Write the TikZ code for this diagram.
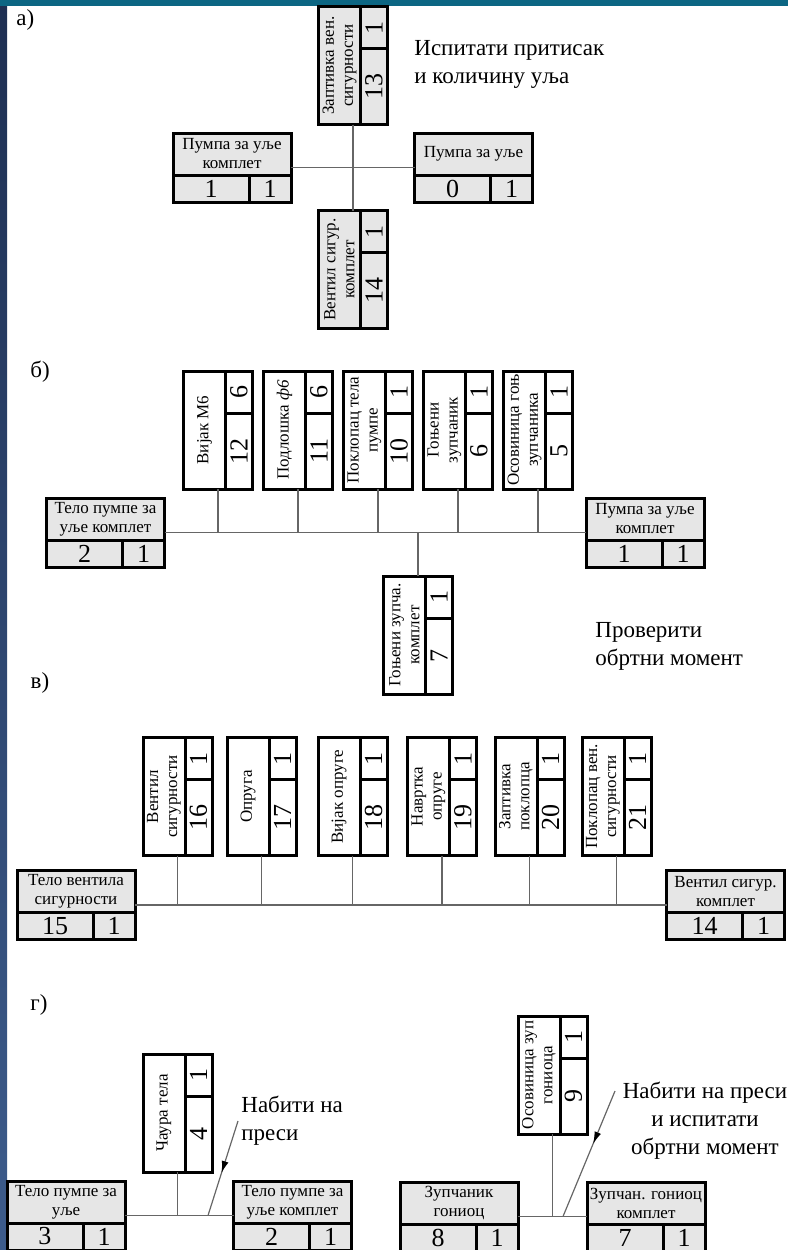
\documentclass[tikz,border=0pt]{standalone}
\usepackage{fontspec}
\setmainfont{Liberation Serif}
\usepackage{tikz}
\usetikzlibrary{arrows.meta, decorations.markings}
\definecolor{partGray}{HTML}{E6E6E6}
\definecolor{linkGray}{HTML}{666666}
\definecolor{barTeal}{HTML}{0C6683}
\definecolor{stripNavy}{HTML}{1E2F52}
\definecolor{stripBlue}{HTML}{3D5C8C}

% horizontal part box: name, centre, label, item no., quantity, fill
\newcommand{\partH}[6]{%
  \node[hpart, fill=#6] (#1) at (#2) {};
  \draw[rule] ([yshift=13.5pt]#1.south west) -- ([yshift=13.5pt]#1.south east);
  \draw[rule] ([xshift=-21pt]#1.south east) -- ([xshift=-21pt,yshift=13.5pt]#1.south east);
  \node[lbl] (#1-lbl) at ([yshift=-10.5pt]#1.north) {#3};
  \node[num] (#1-id) at ([xshift=19pt,yshift=6.75pt]#1.south west) {#4};
  \node[num] (#1-qty) at ([xshift=-10.5pt,yshift=6.75pt]#1.south east) {#5};
}
% vertical part box (same box turned upright)
\newcommand{\partV}[6]{%
  \node[vpart, fill=#6] (#1) at (#2) {};
  \draw[rule] ([xshift=-13.5pt]#1.north east) -- ([xshift=-13.5pt]#1.south east);
  \draw[rule] ([xshift=-13.5pt,yshift=-21pt]#1.north east) -- ([yshift=-21pt]#1.north east);
  \node[lbl, rotate=90] (#1-lbl) at ([xshift=10.5pt]#1.west) {#3};
  \node[num, rotate=90] (#1-id) at ([xshift=-6.75pt,yshift=19pt]#1.south east) {#4};
  \node[num, rotate=90] (#1-qty) at ([xshift=-6.75pt,yshift=-10.5pt]#1.north east) {#5};
}

\begin{document}
\begin{tikzpicture}[x=0.5pt, y=-0.5pt,
    hpart/.style={draw, line width=1.5pt, minimum width=59pt, minimum height=34.5pt,
      inner sep=0pt, outer sep=0pt},
    vpart/.style={draw, line width=1.5pt, minimum width=34.5pt, minimum height=59pt,
      inner sep=0pt, outer sep=0pt},
    rule/.style={line width=1.5pt},
    lbl/.style={font=\fontsize{8.5}{9.5}\selectfont, align=center, inner sep=0pt},
    num/.style={font=\fontsize{13}{13}\selectfont, inner sep=0pt},
    note/.style={font=\fontsize{11.5}{14}\selectfont, align=left, inner sep=0pt},
    link/.style={linkGray, line width=0.6pt},
    press/.style={linkGray, line width=0.6pt, postaction={decorate},
      decoration={markings, mark=at position #1 with {\arrow[black]{Latex[length=6pt,width=3.5pt]}}}}]
  \useasboundingbox (0,0) rectangle (788,1250);
  % --- slide frame ---
  \shade[top color=stripNavy, bottom color=stripBlue] (0,0) rectangle (7,1250);
  \fill[barTeal] (0,0) rectangle (788,6);

  % --- a) ---
  \node[note, anchor=west] (secA) at (16,20) {а)};
  \partV{p13}{353,65.5}{Заптивка вен.\\сигурности}{13}{1}{partGray}
  \partH{p1a}{232,167.5}{Пумпа за уље\\комплет}{1}{1}{partGray}
  \partH{p0}{473.5,167.5}{Пумпа за уље}{0}{1}{partGray}
  \partV{p14a}{353,269.5}{Вентил сигур.\\комплет}{14}{1}{partGray}
  \draw[link] (p1a.east) -- (p0.west);
  \draw[link] (p13.south) -- (p14a.north);
  \node[note, anchor=west] (testA) at (414,64) {Испитати притисак\\и количину уља};

  % --- б) ---
  \node[note] (secB) at (40,372) {б)};
  \partV{p12}{218,430}{Вијак М6}{12}{6}{white}
  \partV{p11}{298,430}{Подлошка \textit{ф6}}{11}{6}{white}
  \partV{p10}{378,430}{Поклопац тела\\пумпе}{10}{1}{white}
  \partV{p6}{458,430}{Гоњени\\зупчаник}{6}{1}{white}
  \partV{p5}{538,430}{Осовиница гоњ\\зупчаника}{5}{1}{white}
  \partH{p2b}{105.5,532.5}{Тело пумпе за\\уље комплет}{2}{1}{partGray}
  \partH{p1b}{645,532.5}{Пумпа за уље\\комплет}{1}{1}{partGray}
  \partV{p7b}{418,635}{Гоњени зупча.\\комплет}{7}{1}{white}
  \draw[link] (p2b.east) -- (p1b.west);
  \foreach \p in {p12,p11,p10,p6,p5} \draw[link] (\p.south) -- (\p.south |- p2b.east);
  \draw[link] (p7b.north) -- (p7b.north |- p2b.east);
  \node[note, anchor=west] (testB) at (595,646) {Проверити\\обртни момент};

  % --- в) ---
  \node[note] (secC) at (40,683) {в)};
  \partV{p16}{177.5,796.5}{Вентил\\сигурности}{16}{1}{white}
  \partV{p17}{261.5,796.5}{Опруга}{17}{1}{white}
  \partV{p18}{352.5,796.5}{Вијак опруге}{18}{1}{white}
  \partV{p19}{442,796.5}{Навртка\\опруге}{19}{1}{white}
  \partV{p20}{529.5,796.5}{Заптивка\\поклопца}{20}{1}{white}
  \partV{p21}{616.5,796.5}{Поклопац вен.\\сигурности}{21}{1}{white}
  \partH{p15}{76,905}{Тело вентила\\сигурности}{15}{1}{partGray}
  \partH{p14c}{725.5,905}{Вентил сигур.\\комплет}{14}{1}{partGray}
  \draw[link] (p15.east) -- (p14c.west);
  \foreach \p in {p16,p17,p18,p19,p20,p21} \draw[link] (\p.south) -- (\p.south |- p15.east);

  % --- г) ---
  \node[note] (secD) at (39,1005) {г)};
  \partV{p4}{177.5,1113}{Чаура тела}{4}{1}{white}
  \partH{p3}{66,1215.5}{Тело пумпе за\\уље}{3}{1}{partGray}
  \partH{p2d}{292.5,1215.5}{Тело пумпе за\\уље комплет}{2}{1}{partGray}
  \draw[link] (p3.east) -- (p2d.west);
  \draw[link] (p4.south) -- (p4.south |- p3.east);
  \coordinate (pressA0) at (238,1121);
  \coordinate (pressA1) at (208,1215.5);
  \draw[press=0.55] (pressA0) -- (pressA1);
  \node[note, anchor=west] (pressA) at (241,1121) {Набити на\\преси};

  \partV{p9}{552.5,1075}{Осовиница зуп\\гониоца}{9}{1}{white}
  \partH{p8}{459,1216.5}{Зупчаник\\гониоц}{8}{1}{partGray}
  \partH{p7d}{646,1216.5}{Зупчан. гониоц\\комплет}{7}{1}{partGray}
  \draw[link] (p8.east) -- (p7d.west);
  \draw[link] (p9.south) -- (p9.south |- p8.east);
  \coordinate (pressB0) at (615,1091);
  \coordinate (pressB1) at (563,1216.5);
  \draw[press=0.42] (pressB0) -- (pressB1);
  \node[note, align=center] (pressB) at (705,1121) {Набити на преси\\и испитати\\обртни момент};
\end{tikzpicture}
\end{document}
